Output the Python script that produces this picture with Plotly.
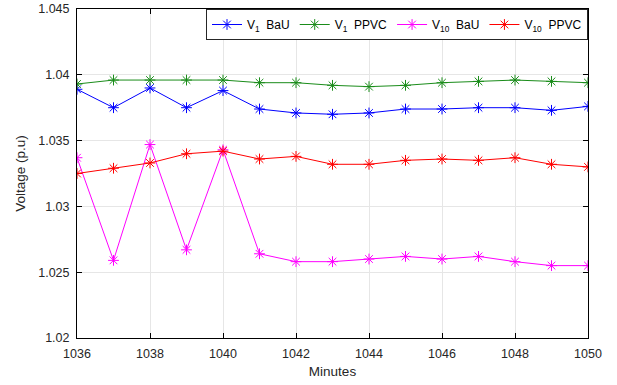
import plotly.graph_objects as go

minutes = [1036, 1037, 1038, 1039, 1040, 1041, 1042, 1043, 1044, 1045, 1046, 1047, 1048, 1049, 1050]
v1_bau = [1.0389, 1.0375, 1.0390, 1.0375, 1.0388, 1.0374, 1.0371, 1.0370, 1.0371, 1.0374, 1.0374, 1.0375, 1.0375, 1.0373, 1.0376]
v1_ppvc = [1.0393, 1.0396, 1.0396, 1.0396, 1.0396, 1.0394, 1.0394, 1.0392, 1.0391, 1.0392, 1.0394, 1.0395, 1.0396, 1.0395, 1.0394]
v10_bau = [1.0337, 1.0259, 1.0347, 1.0267, 1.0343, 1.0264, 1.0258, 1.0258, 1.0260, 1.0262, 1.0260, 1.0262, 1.0258, 1.0255, 1.0255]
v10_ppvc = [1.0325, 1.0329, 1.0333, 1.0340, 1.0342, 1.0336, 1.0338, 1.0332, 1.0332, 1.0335, 1.0336, 1.0335, 1.0337, 1.0332, 1.0330]

series = [
    ("V<sub>1</sub>  BaU", v1_bau, "#0000FF"),
    ("V<sub>1</sub>  PPVC", v1_ppvc, "#1A8C1A"),
    ("V<sub>10</sub>  BaU", v10_bau, "#FF00FF"),
    ("V<sub>10</sub>  PPVC", v10_ppvc, "#FF0000"),
]

fig = go.Figure()
for name, vals, col in series:
    fig.add_trace(go.Scatter(
        x=minutes, y=vals, name=name, mode="lines+markers",
        line=dict(color=col, width=1),
        marker=dict(symbol="asterisk-open", size=9, color=col, line=dict(color=col, width=1)),
    ))

axis_common = dict(
    showline=True, linecolor="black", linewidth=1, mirror="ticks",
    ticks="inside", ticklen=5, tickcolor="black",
    showgrid=True, gridcolor="#E6E6E6", gridwidth=1, zeroline=False,
    tickfont=dict(family="Liberation Sans, Arial", size=12.5, color="#262626"),
)

fig.update_layout(
    width=617, height=385,
    margin=dict(l=77, r=29, t=9, b=47, autoexpand=False),
    plot_bgcolor="white", paper_bgcolor="white",
    font=dict(family="Liberation Sans, Arial", size=12, color="#262626"),
    xaxis=dict(range=[1036, 1050], dtick=2, tick0=1036, ticklabelstandoff=4,
               title=dict(text="Minutes", font=dict(size=13.5), standoff=6), **axis_common),
    yaxis=dict(range=[1.02, 1.045], dtick=0.005, tick0=1.02, ticklabelstandoff=4,
               title=dict(text="Voltage (p.u)", font=dict(size=13.5), standoff=9), **axis_common),
    legend=dict(orientation="h", x=1, xanchor="right", y=1, yanchor="top",
                bgcolor="white", bordercolor="#262626", borderwidth=1,
                font=dict(size=12, color="black"), itemwidth=30, tracegroupgap=0),
    showlegend=True,
)

fig.write_html("out.html", config={"displayModeBar": False},
               post_script="document.body.style.margin='0';")
